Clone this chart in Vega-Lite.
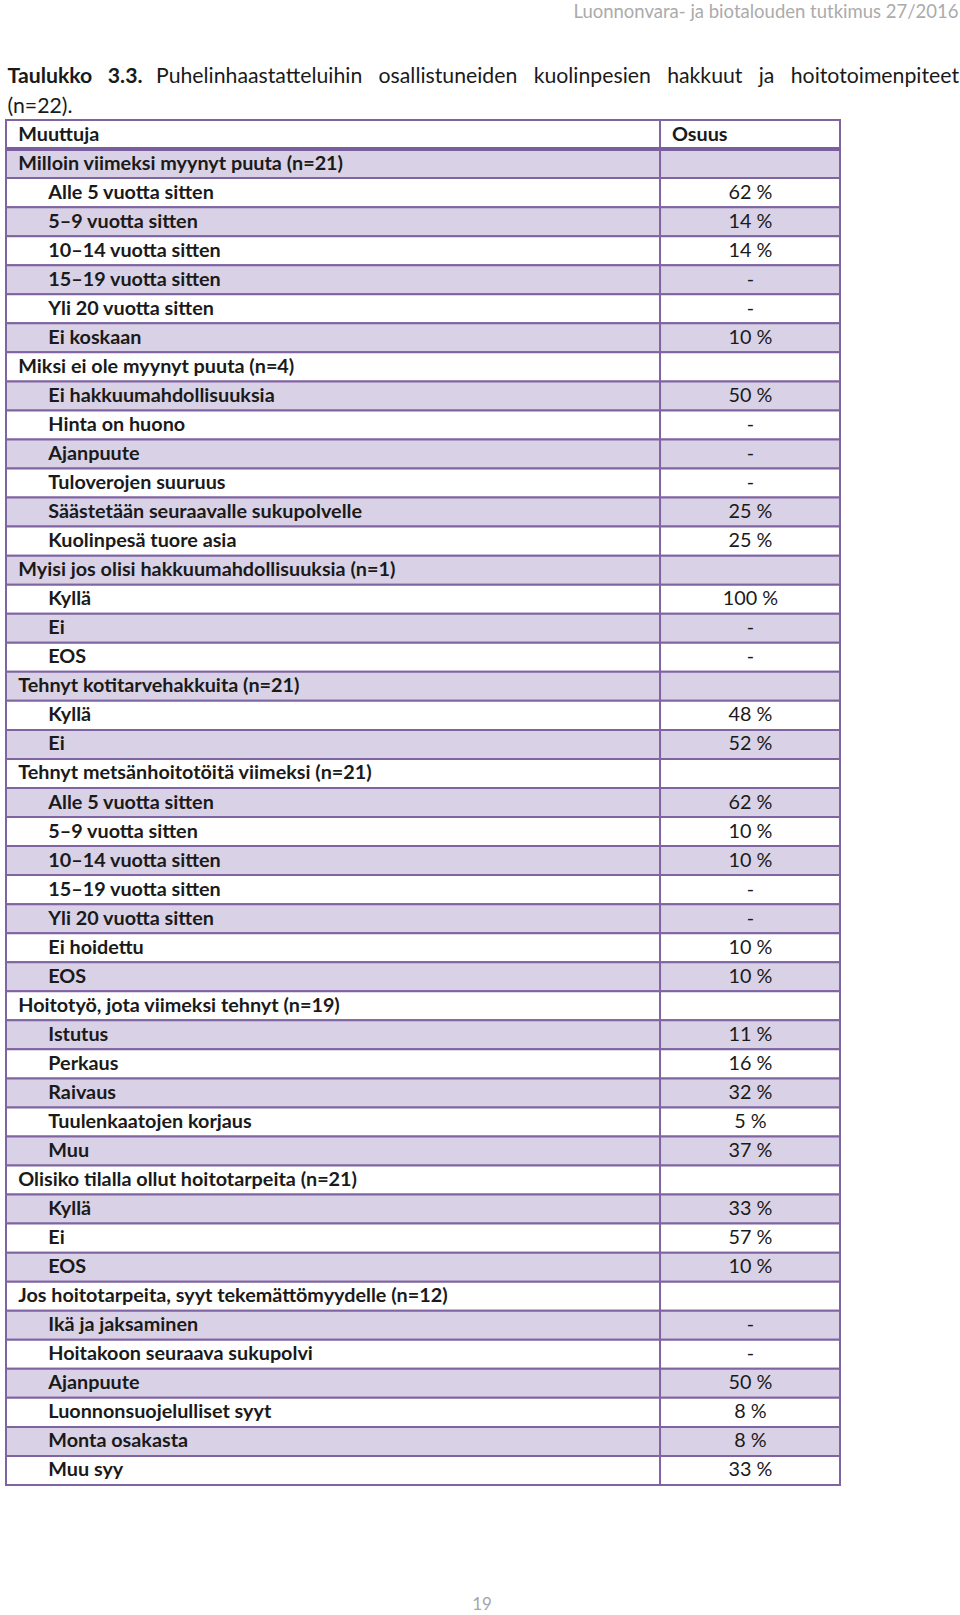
{
  "$schema": "https://vega.github.io/schema/vega-lite/v6.json",
  "width": 834,
  "height": 1365,
  "autosize": {"type": "none"},
  "padding": {"left": 6, "top": 120, "right": 120, "bottom": 130},
  "background": "#ffffff",
  "config": {"view": {"stroke": null}, "text": {"font": "Lato"}},
  "title": {"text": "19", "orient": "bottom", "anchor": "middle", "frame": "group", "offset": 111, "dx": 59, "font": "Lato", "fontSize": 17, "fontWeight": "normal", "color": "#a6a6a6"},
  "data": {"values": [
    {"row": 0, "kind": "header", "label": "Muuttuja", "value": "Osuus"},
    {"row": 1, "kind": "group", "label": "Milloin viimeksi myynyt puuta (n=21)", "value": ""},
    {"row": 2, "kind": "item", "label": "Alle 5 vuotta sitten", "value": "62 %"},
    {"row": 3, "kind": "item", "label": "5–9 vuotta sitten", "value": "14 %"},
    {"row": 4, "kind": "item", "label": "10–14 vuotta sitten", "value": "14 %"},
    {"row": 5, "kind": "item", "label": "15–19 vuotta sitten", "value": "-"},
    {"row": 6, "kind": "item", "label": "Yli 20 vuotta sitten", "value": "-"},
    {"row": 7, "kind": "item", "label": "Ei koskaan", "value": "10 %"},
    {"row": 8, "kind": "group", "label": "Miksi ei ole myynyt puuta (n=4)", "value": ""},
    {"row": 9, "kind": "item", "label": "Ei hakkuumahdollisuuksia", "value": "50 %"},
    {"row": 10, "kind": "item", "label": "Hinta on huono", "value": "-"},
    {"row": 11, "kind": "item", "label": "Ajanpuute", "value": "-"},
    {"row": 12, "kind": "item", "label": "Tuloverojen suuruus", "value": "-"},
    {"row": 13, "kind": "item", "label": "Säästetään seuraavalle sukupolvelle", "value": "25 %"},
    {"row": 14, "kind": "item", "label": "Kuolinpesä tuore asia", "value": "25 %"},
    {"row": 15, "kind": "group", "label": "Myisi jos olisi hakkuumahdollisuuksia (n=1)", "value": ""},
    {"row": 16, "kind": "item", "label": "Kyllä", "value": "100 %"},
    {"row": 17, "kind": "item", "label": "Ei", "value": "-"},
    {"row": 18, "kind": "item", "label": "EOS", "value": "-"},
    {"row": 19, "kind": "group", "label": "Tehnyt kotitarvehakkuita (n=21)", "value": ""},
    {"row": 20, "kind": "item", "label": "Kyllä", "value": "48 %"},
    {"row": 21, "kind": "item", "label": "Ei", "value": "52 %"},
    {"row": 22, "kind": "group", "label": "Tehnyt metsänhoitotöitä viimeksi (n=21)", "value": ""},
    {"row": 23, "kind": "item", "label": "Alle 5 vuotta sitten", "value": "62 %"},
    {"row": 24, "kind": "item", "label": "5–9 vuotta sitten", "value": "10 %"},
    {"row": 25, "kind": "item", "label": "10–14 vuotta sitten", "value": "10 %"},
    {"row": 26, "kind": "item", "label": "15–19 vuotta sitten", "value": "-"},
    {"row": 27, "kind": "item", "label": "Yli 20 vuotta sitten", "value": "-"},
    {"row": 28, "kind": "item", "label": "Ei hoidettu", "value": "10 %"},
    {"row": 29, "kind": "item", "label": "EOS", "value": "10 %"},
    {"row": 30, "kind": "group", "label": "Hoitotyö, jota viimeksi tehnyt (n=19)", "value": ""},
    {"row": 31, "kind": "item", "label": "Istutus", "value": "11 %"},
    {"row": 32, "kind": "item", "label": "Perkaus", "value": "16 %"},
    {"row": 33, "kind": "item", "label": "Raivaus", "value": "32 %"},
    {"row": 34, "kind": "item", "label": "Tuulenkaatojen korjaus", "value": "5 %"},
    {"row": 35, "kind": "item", "label": "Muu", "value": "37 %"},
    {"row": 36, "kind": "group", "label": "Olisiko tilalla ollut hoitotarpeita (n=21)", "value": ""},
    {"row": 37, "kind": "item", "label": "Kyllä", "value": "33 %"},
    {"row": 38, "kind": "item", "label": "Ei", "value": "57 %"},
    {"row": 39, "kind": "item", "label": "EOS", "value": "10 %"},
    {"row": 40, "kind": "group", "label": "Jos hoitotarpeita, syyt tekemättömyydelle (n=12)", "value": ""},
    {"row": 41, "kind": "item", "label": "Ikä ja jaksaminen", "value": "-"},
    {"row": 42, "kind": "item", "label": "Hoitakoon seuraava sukupolvi", "value": "-"},
    {"row": 43, "kind": "item", "label": "Ajanpuute", "value": "50 %"},
    {"row": 44, "kind": "item", "label": "Luonnonsuojelulliset syyt", "value": "8 %"},
    {"row": 45, "kind": "item", "label": "Monta osakasta", "value": "8 %"},
    {"row": 46, "kind": "item", "label": "Muu syy", "value": "33 %"}
  ]},
  "resolve": {"scale": {"x": "independent", "y": "independent"}, "axis": {"x": "independent", "y": "independent"}},
  "layer": [
    {
      "mark": {"type": "rect", "stroke": "#8064A2", "strokeWidth": 2},
      "encoding": {
        "y": {"field": "row", "type": "ordinal", "scale": {"paddingInner": 0, "paddingOuter": 0},
          "axis": {"orient": "right", "labels": false, "ticks": false, "domain": false, "grid": false,
            "title": "Luonnonvara- ja biotalouden tutkimus 27/2016", "titleAngle": 0, "titleX": 118, "titleY": -103,
            "titleAlign": "right", "titleBaseline": "alphabetic", "titleFont": "Liberation Sans Narrow, Lato", "titleFontSize": 18.5, "titleFontWeight": "normal", "titleColor": "#ababab"}},
        "x": {"datum": 78.42, "type": "quantitative", "scale": {"domain": [0, 100]},
          "axis": {"orient": "top", "labels": false, "ticks": false, "domain": false, "grid": false,
            "title": "Puhelinhaastatteluihin \u00a0\u00a0osallistuneiden \u00a0\u00a0kuolinpesien \u00a0\u00a0hakkuut \u00a0\u00a0ja \u00a0\u00a0hoitotoimenpiteet", "titleAngle": 0, "titleX": 149.5, "titleY": -38,
            "titleAlign": "left", "titleBaseline": "alphabetic", "titleFont": "Lato", "titleFontSize": 21.25, "titleFontWeight": "normal", "titleColor": "#1a1a1a"}},
        "x2": {"datum": 100},
        "fill": {"condition": {"test": "datum.row % 2 === 1", "value": "#D9D1E5"}, "value": "#ffffff"}
      }
    },
    {
      "layer": [
        {
          "mark": {"type": "rect", "stroke": "#8064A2", "strokeWidth": 2},
          "encoding": {
            "y": {"field": "row", "type": "ordinal", "scale": {"paddingInner": 0, "paddingOuter": 0},
              "axis": {"orient": "left", "labels": false, "ticks": false, "domain": false, "grid": false,
                "title": "Taulukko\u00a0\u00a0 3.3.", "titleAngle": 0, "titleX": 1, "titleY": -38,
                "titleAlign": "left", "titleBaseline": "alphabetic", "titleFont": "Lato", "titleFontSize": 21.25, "titleFontWeight": "bold", "titleColor": "#1a1a1a"}},
            "x": {"datum": 0, "type": "quantitative", "scale": {"domain": [0, 100]},
              "axis": {"orient": "bottom", "labels": false, "ticks": false, "domain": false, "grid": false,
                "title": "(n=22).", "titleAngle": 0, "titleX": 1, "titleY": -1373,
                "titleAlign": "left", "titleBaseline": "alphabetic", "titleFont": "Lato", "titleFontSize": 21.25, "titleFontWeight": "normal", "titleColor": "#1a1a1a"}},
            "x2": {"datum": 78.42},
            "fill": {"condition": {"test": "datum.row % 2 === 1", "value": "#D9D1E5"}, "value": "#ffffff"}
          }
        },
        {
          "transform": [{"filter": "datum.row === 0"}],
          "mark": {"type": "rule", "stroke": "#7A5E9E", "strokeWidth": 4},
          "encoding": {
            "y": {"field": "row", "type": "ordinal", "bandPosition": 1,
              "axis": {"orient": "left", "labels": false, "ticks": false, "domain": false, "grid": false,
                "title": "Taulukko\u00a0\u00a0 3.3.", "titleAngle": 0, "titleX": 1, "titleY": -38,
                "titleAlign": "left", "titleBaseline": "alphabetic", "titleFont": "Lato", "titleFontSize": 21.25, "titleFontWeight": "bold", "titleColor": "#1a1a1a"}},
            "x": {"datum": 0, "type": "quantitative", "scale": {"domain": [0, 100]},
              "axis": {"orient": "bottom", "labels": false, "ticks": false, "domain": false, "grid": false,
                "title": "(n=22).", "titleAngle": 0, "titleX": 1, "titleY": -1373,
                "titleAlign": "left", "titleBaseline": "alphabetic", "titleFont": "Lato", "titleFontSize": 21.25, "titleFontWeight": "normal", "titleColor": "#1a1a1a"}},
            "x2": {"datum": 100}
          }
        },
        {
          "transform": [{"filter": "datum.kind !== 'item'"}],
          "mark": {"type": "text", "align": "left", "baseline": "middle", "font": "Lato", "fontSize": 19.8, "fontWeight": "bold", "color": "#1a1a1a"},
          "encoding": {
            "y": {"field": "row", "type": "ordinal",
              "axis": {"orient": "left", "labels": false, "ticks": false, "domain": false, "grid": false,
                "title": "Taulukko\u00a0\u00a0 3.3.", "titleAngle": 0, "titleX": 1, "titleY": -38,
                "titleAlign": "left", "titleBaseline": "alphabetic", "titleFont": "Lato", "titleFontSize": 21.25, "titleFontWeight": "bold", "titleColor": "#1a1a1a"}},
            "x": {"datum": 1.47, "type": "quantitative", "scale": {"domain": [0, 100]},
              "axis": {"orient": "bottom", "labels": false, "ticks": false, "domain": false, "grid": false,
                "title": "(n=22).", "titleAngle": 0, "titleX": 1, "titleY": -1373,
                "titleAlign": "left", "titleBaseline": "alphabetic", "titleFont": "Lato", "titleFontSize": 21.25, "titleFontWeight": "normal", "titleColor": "#1a1a1a"}},
            "text": {"field": "label"}
          }
        },
        {
          "transform": [{"filter": "datum.kind === 'item'"}],
          "mark": {"type": "text", "align": "left", "baseline": "middle", "font": "Lato", "fontSize": 19.8, "fontWeight": "bold", "color": "#1a1a1a"},
          "encoding": {
            "y": {"field": "row", "type": "ordinal",
              "axis": {"orient": "left", "labels": false, "ticks": false, "domain": false, "grid": false,
                "title": "Taulukko\u00a0\u00a0 3.3.", "titleAngle": 0, "titleX": 1, "titleY": -38,
                "titleAlign": "left", "titleBaseline": "alphabetic", "titleFont": "Lato", "titleFontSize": 21.25, "titleFontWeight": "bold", "titleColor": "#1a1a1a"}},
            "x": {"datum": 5.07, "type": "quantitative", "scale": {"domain": [0, 100]},
              "axis": {"orient": "bottom", "labels": false, "ticks": false, "domain": false, "grid": false,
                "title": "(n=22).", "titleAngle": 0, "titleX": 1, "titleY": -1373,
                "titleAlign": "left", "titleBaseline": "alphabetic", "titleFont": "Lato", "titleFontSize": 21.25, "titleFontWeight": "normal", "titleColor": "#1a1a1a"}},
            "text": {"field": "label"}
          }
        },
        {
          "transform": [{"filter": "datum.kind === 'item'"}],
          "mark": {"type": "text", "align": "center", "baseline": "middle", "font": "Lato", "fontSize": 19.8, "fontWeight": "normal", "color": "#1a1a1a"},
          "encoding": {
            "y": {"field": "row", "type": "ordinal",
              "axis": {"orient": "left", "labels": false, "ticks": false, "domain": false, "grid": false,
                "title": "Taulukko\u00a0\u00a0 3.3.", "titleAngle": 0, "titleX": 1, "titleY": -38,
                "titleAlign": "left", "titleBaseline": "alphabetic", "titleFont": "Lato", "titleFontSize": 21.25, "titleFontWeight": "bold", "titleColor": "#1a1a1a"}},
            "x": {"datum": 89.27, "type": "quantitative", "scale": {"domain": [0, 100]},
              "axis": {"orient": "bottom", "labels": false, "ticks": false, "domain": false, "grid": false,
                "title": "(n=22).", "titleAngle": 0, "titleX": 1, "titleY": -1373,
                "titleAlign": "left", "titleBaseline": "alphabetic", "titleFont": "Lato", "titleFontSize": 21.25, "titleFontWeight": "normal", "titleColor": "#1a1a1a"}},
            "text": {"field": "value"}
          }
        },
        {
          "transform": [{"filter": "datum.kind === 'header'"}],
          "mark": {"type": "text", "align": "left", "baseline": "middle", "font": "Lato", "fontSize": 19.8, "fontWeight": "bold", "color": "#1a1a1a"},
          "encoding": {
            "y": {"field": "row", "type": "ordinal",
              "axis": {"orient": "left", "labels": false, "ticks": false, "domain": false, "grid": false,
                "title": "Taulukko\u00a0\u00a0 3.3.", "titleAngle": 0, "titleX": 1, "titleY": -38,
                "titleAlign": "left", "titleBaseline": "alphabetic", "titleFont": "Lato", "titleFontSize": 21.25, "titleFontWeight": "bold", "titleColor": "#1a1a1a"}},
            "x": {"datum": 79.86, "type": "quantitative", "scale": {"domain": [0, 100]},
              "axis": {"orient": "bottom", "labels": false, "ticks": false, "domain": false, "grid": false,
                "title": "(n=22).", "titleAngle": 0, "titleX": 1, "titleY": -1373,
                "titleAlign": "left", "titleBaseline": "alphabetic", "titleFont": "Lato", "titleFontSize": 21.25, "titleFontWeight": "normal", "titleColor": "#1a1a1a"}},
            "text": {"field": "value"}
          }
        }
      ]
    }
  ]
}
